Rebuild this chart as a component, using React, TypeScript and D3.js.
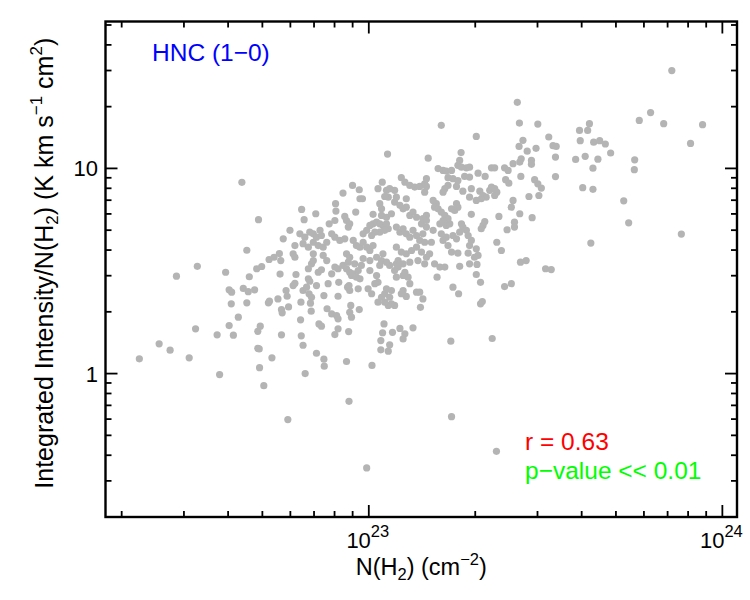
import React from 'react';
import * as d3 from 'd3';

// log10 N(H2) [cm^-2]
const logN = [
  22.641, 22.688, 22.655, 22.515, 22.456, 22.595, 22.683, 22.697, 22.718, 22.662,
  22.605, 22.612, 22.645, 22.659, 22.677, 22.611, 22.655, 22.716, 22.719, 22.631,
  22.605, 22.510, 22.571, 22.617, 22.686, 22.693, 22.407, 22.438, 22.351, 22.492,
  22.686, 22.690, 22.691, 22.578, 22.703, 22.726, 22.732, 22.747, 22.758, 22.777,
  22.749, 22.751, 22.743, 22.753, 22.755, 22.753, 22.771, 22.773, 22.766, 22.769,
  22.786, 22.791, 22.794, 22.786, 22.791, 22.791, 22.810, 22.850, 22.817, 22.805,
  22.819, 22.833, 22.843, 22.852, 22.862, 22.866, 22.814, 22.829, 22.843, 22.857,
  22.871, 22.881, 22.888, 22.904, 22.907, 22.906, 22.895, 22.904, 22.918, 22.932,
  22.808, 22.807, 22.809, 22.814, 22.820, 22.814, 22.824, 22.829, 22.833, 22.831,
  22.838, 22.835, 22.838, 22.843, 22.829, 22.852, 22.837, 22.857, 22.866, 22.852,
  22.859, 22.866, 22.873, 22.874, 22.873, 22.885, 22.881, 22.895, 22.904, 22.913,
  22.915, 22.913, 22.882, 22.895, 22.909, 22.913, 22.904, 22.913, 22.843, 22.871,
  22.937, 22.944, 22.943, 22.949, 22.946, 22.951, 22.973, 22.940, 22.946, 22.944,
  22.970, 22.994, 23.009, 23.003, 22.998, 23.008, 23.003, 22.927, 22.937, 22.946,
  22.951, 22.956, 22.965, 22.975, 22.970, 22.942, 22.960, 22.979, 22.937, 22.946,
  22.984, 23.022, 23.036, 23.040, 22.956, 22.965, 22.975, 22.984, 22.994, 23.003,
  23.012, 22.984, 22.994, 23.003, 23.012, 23.022, 23.031, 23.040, 23.050, 23.055,
  23.045, 23.031, 23.017, 23.008, 23.078, 23.088, 23.097, 23.106, 23.116, 23.125,
  23.135, 23.144, 23.153, 23.163, 23.078, 23.092, 23.106, 23.121, 23.135, 23.149,
  23.163, 23.083, 23.097, 23.116, 23.139, 23.158, 23.053, 23.168, 23.092, 23.102,
  23.116, 23.130, 23.144, 23.158, 23.163, 23.038, 23.026, 23.050, 23.059, 23.073,
  22.954, 22.973, 22.927, 22.975, 22.982, 23.055, 23.045, 23.078, 23.106, 23.031,
  23.036, 23.073, 23.088, 23.097, 23.106, 22.963, 22.932, 22.937, 22.946, 22.942,
  23.012, 23.036, 23.050, 23.064, 23.116, 23.125, 23.135, 23.163, 23.022, 23.026,
  23.031, 23.017, 23.026, 23.036, 23.045, 23.050, 23.059, 23.064, 23.073, 23.064,
  23.055, 23.045, 23.043, 23.039, 23.034, 23.034, 23.055, 23.059, 23.067, 23.088,
  23.102, 23.097, 23.125, 23.078, 23.083, 23.073, 23.059, 23.050, 23.102, 23.097,
  23.111, 23.078, 23.116, 23.097, 23.106, 23.092, 23.135, 23.153, 23.146, 23.186,
  23.201, 23.215, 23.193, 23.257, 23.285, 23.306, 23.304, 23.316, 23.238, 23.254,
  23.144, 23.316, 23.321, 23.384, 23.403, 23.429, 23.445, 23.500, 23.516, 23.232,
  23.349, 23.234, 23.361, 23.420, 23.205, 23.304, 23.426, 23.478, 23.596, 23.436,
  23.425, 23.448, 23.473, 23.509, 23.521, 23.530, 23.528, 23.585, 23.528, 23.261,
  23.257, 23.252, 23.262, 23.276, 23.285, 23.196, 23.210, 23.219, 23.234, 23.309,
  23.329, 23.347, 23.356, 23.384, 23.394, 23.408, 23.427, 23.431, 23.460, 23.460,
  23.430, 23.387, 23.396, 23.469, 23.478, 23.488, 23.453, 23.481, 23.224, 23.238,
  23.252, 23.271, 23.285, 23.163, 23.158, 23.224, 23.215, 23.210, 23.248, 23.266,
  23.290, 23.314, 23.323, 23.332, 23.342, 23.347, 23.356, 23.362, 23.356, 23.285,
  23.304, 23.318, 23.408, 23.403, 23.427, 23.462, 23.182, 23.191, 23.186, 23.196,
  23.205, 23.248, 23.252, 23.243, 23.234, 23.290, 23.368, 23.215, 23.224, 23.210,
  23.201, 23.219, 23.229, 23.153, 23.149, 23.163, 23.262, 23.266, 23.257, 23.276,
  23.281, 23.323, 23.318, 23.328, 23.412, 23.412, 23.391, 23.182, 23.177, 23.158,
  23.205, 23.219, 23.210, 23.238, 23.248, 23.224, 23.290, 23.285, 23.362, 23.375,
  23.234, 23.252, 23.281, 23.304, 23.309, 23.299, 23.172, 23.857, 23.797, 23.765,
  23.834, 23.944, 23.910, 23.624, 23.619, 23.598, 23.636, 23.653, 23.669, 23.684,
  23.612, 23.648, 23.752, 23.751, 23.634, 23.605, 23.634, 23.721, 23.735, 23.884,
  23.628,
];

// log10 of integrated intensity / N(H2) [K km s^-1 cm^2]
const logR = [
  0.932, 0.750, 0.601, 0.523, 0.475, 0.494, 0.511, 0.522, 0.556, 0.472,
  0.408, 0.397, 0.415, 0.399, 0.408, 0.340, 0.345, 0.345, 0.353, 0.275,
  0.234, 0.218, 0.189, 0.187, 0.206, 0.231, 0.145, 0.114, 0.072, 0.077,
  0.123, 0.120, 0.029, -0.005, -0.059, 0.077, 0.567, 0.585, 0.657, 0.698,
  0.485, 0.551, 0.364, 0.312, 0.296, 0.189, -0.224, 0.325, 0.405, 0.377,
  0.429, 0.440, 0.483, 0.584, 0.624, 0.567, 0.800, 0.779, 0.750, 0.681,
  0.665, 0.689, 0.681, 0.665, 0.698, 0.673, 0.633, 0.616, 0.640, 0.624,
  0.616, 0.640, 0.730, 0.746, 0.792, 0.828, 0.681, 0.665, 0.649, 0.657,
  0.348, 0.262, 0.184, 0.138, 0.000, 0.405, 0.421, 0.462, 0.450, 0.389,
  0.372, 0.343, 0.535, 0.551, 0.511, 0.429, 0.304, 0.494, 0.506, 0.099,
  0.242, 0.231, 0.070, 0.036, 0.380, 0.438, 0.551, 0.486, 0.519, 0.511,
  0.445, 0.377, 0.316, 0.291, 0.283, 0.267, 0.190, 0.218, 0.584, 0.576,
  0.059, -0.135, 0.205, 0.332, 0.299, 0.275, 0.312, 0.421, 0.405, 0.429,
  0.413, -0.460, 0.040, 0.502, 0.413, 0.389, 0.551, 0.527, 0.511, 0.494,
  0.478, 0.486, 0.470, 0.462, 0.502, 0.543, 0.535, 0.527, 0.584, 0.567,
  0.561, 0.567, 0.551, 0.584, 0.649, 0.624, 0.616, 0.640, 0.616, 0.600,
  0.624, 0.681, 0.698, 0.722, 0.730, 0.738, 0.730, 0.722, 0.730, 0.706,
  0.698, 0.689, 0.689, 0.673, 0.714, 0.689, 0.706, 0.681, 0.665, 0.698,
  0.673, 0.649, 0.681, 0.714, 0.616, 0.592, 0.584, 0.600, 0.616, 0.592,
  0.567, 0.551, 0.535, 0.543, 0.551, 0.535, 1.070, 1.050, 0.955, 0.933,
  0.917, 0.909, 0.912, 0.925, 0.950, 0.933, 0.901, 0.893, 0.901, 0.893,
  0.917, 0.896, 0.880, 0.852, 0.852, 0.860, 0.863, 0.860, 0.852, 0.828,
  0.803, 0.836, 0.820, 0.803, 0.811, 0.787, 0.766, 0.746, 0.730, 0.714,
  0.776, 0.771, 0.762, 0.779, 0.771, 0.787, 0.762, 0.771, 0.478, 0.445,
  0.527, 0.438, 0.348, 0.372, 0.389, 0.413, 0.372, 0.405, 0.332, 0.340,
  0.332, 0.348, 0.242, 0.199, 0.161, 0.116, 0.109, 0.140, 0.201, 0.220,
  0.194, 0.169, 0.223, 0.535, 0.519, 0.502, 0.527, 0.543, 0.494, 0.478,
  0.470, 0.470, 0.438, 0.405, 0.376, 0.389, 0.397, 0.364, 0.323, 0.535,
  0.519, 0.519, 0.470, 0.523, 0.535, 0.532, 0.483, 0.445, 0.421, 0.389,
  0.397, 0.340, 0.351, 0.424, 0.438, 0.543, 0.551, 0.511, 0.507, 0.158,
  0.171, -0.210, -0.379, 1.322, 1.210, 1.156, 1.221, 1.216, 1.185, 1.137,
  1.107, 1.084, 1.098, 1.153, 1.111, 1.107, 1.055, 1.044, 0.960, 1.077,
  1.039, 1.015, 1.006, 1.003, 1.006, 0.999, 0.990, 0.987, 0.990, 0.977,
  0.961, 1.003, 1.003, 1.003, 0.990, 1.023, 1.031, 1.047, 1.039, 1.020,
  0.961, 0.945, 0.928, 0.945, 0.925, 0.904, 0.863, 0.868, 0.955, 0.950,
  0.941, 0.961, 0.958, 0.912, 0.884, 0.917, 0.901, 0.884, 0.912, 0.889,
  0.901, 0.889, 0.868, 0.860, 0.893, 0.909, 0.901, 0.884, 0.868, 0.860,
  0.844, 0.852, 0.844, 0.811, 0.779, 0.760, 0.844, 0.828, 0.811, 0.803,
  0.787, 0.828, 0.811, 0.795, 0.803, 0.776, 0.766, 0.771, 0.755, 0.746,
  0.730, 0.722, 0.730, 0.755, 0.730, 0.746, 0.730, 0.714, 0.689, 0.698,
  0.673, 0.722, 0.706, 0.741, 0.738, 0.714, 0.701, 0.698, 0.640, 0.640,
  0.681, 0.665, 0.649, 0.673, 0.657, 0.624, 0.649, 0.624, 0.640, 0.600,
  0.592, 0.587, 0.587, 0.608, 0.576, 0.567, 0.584, 1.477, 1.272, 1.234,
  1.218, 1.213, 1.122, 1.218, 1.185, 1.135, 1.128, 1.135, 1.119, 1.075,
  1.059, 1.045, 1.042, 0.994, 1.001, 0.906, 0.898, 0.842, 0.735, 0.680,
  0.636,
];

const xDomain = [1.8e22, 1.1e24];
const yDomain = [0.2, 52];
const xMajor = [1e23, 1e24];
const xMajorExp = ['23', '24'];
const yMajor = [1, 10];
const yMajorLabels = ['1', '10'];

const FONT = '"Liberation Sans", Arial, Helvetica, sans-serif';

export default function App() {
  const W = 750;
  const H = 600;
  const L = 105.5, R = 737, T = 21.5, B = 517;
  const x = d3.scaleLog().domain(xDomain).range([L, R]);
  const y = d3.scaleLog().domain(yDomain).range([B, T]);

  const pts = logN.map((ln, i) => ({ n: Math.pow(10, ln), r: Math.pow(10, logR[i]) }));

  const xMinor: number[] = [];
  [1e22, 1e23].forEach((d) => {
    for (let k = 2; k <= 9; k++) {
      const v = d * k;
      if (v > xDomain[0] && v < xDomain[1]) xMinor.push(v);
    }
  });
  const yMinor: number[] = [];
  [0.1, 1, 10].forEach((d) => {
    for (let k = 2; k <= 9; k++) {
      const v = d * k;
      if (v > yDomain[0] && v < yDomain[1]) yMinor.push(v);
    }
  });

  const MAJ = 12, MIN = 6;
  const axisStroke = { stroke: '#000', strokeWidth: 1.8 };

  return (
    <svg width={W} height={H} style={{ position: 'absolute', left: 0, top: 0, background: '#fff' }} fontFamily={FONT}>
      <rect x={0} y={0} width={W} height={H} fill="#fff" />
      {/* points */}
      <g fill="#b4b4b4">
        {pts.map((p, i) => (
          <circle key={i} cx={x(p.n)} cy={y(p.r)} r={3.6} />
        ))}
      </g>
      {/* frame */}
      <rect x={L} y={T} width={R - L} height={B - T} fill="none" stroke="#000" strokeWidth={2.4} />
      {/* ticks */}
      <g {...axisStroke}>
        {xMajor.map((v, i) => (
          <g key={'xm' + i}>
            <line x1={x(v)} x2={x(v)} y1={B} y2={B - MAJ} />
            <line x1={x(v)} x2={x(v)} y1={T} y2={T + MAJ} />
          </g>
        ))}
        {xMinor.map((v, i) => (
          <g key={'xn' + i}>
            <line x1={x(v)} x2={x(v)} y1={B} y2={B - MIN} />
            <line x1={x(v)} x2={x(v)} y1={T} y2={T + MIN} />
          </g>
        ))}
        {yMajor.map((v, i) => (
          <g key={'ym' + i}>
            <line x1={L} x2={L + MAJ} y1={y(v)} y2={y(v)} />
            <line x1={R} x2={R - MAJ} y1={y(v)} y2={y(v)} />
          </g>
        ))}
        {yMinor.map((v, i) => (
          <g key={'yn' + i}>
            <line x1={L} x2={L + MIN} y1={y(v)} y2={y(v)} />
            <line x1={R} x2={R - MIN} y1={y(v)} y2={y(v)} />
          </g>
        ))}
      </g>
      {/* tick labels */}
      <g fontSize={22} fill="#000">
        {xMajor.map((v, i) => (
          <text key={'xl' + i} x={x(v) - 1} y={548} textAnchor="middle">
            10<tspan fontSize={16.5} dy={-11}>{xMajorExp[i]}</tspan>
          </text>
        ))}
        {yMajor.map((v, i) => (
          <text key={'yl' + i} x={98} y={y(v) + 8} textAnchor="end">
            {yMajorLabels[i]}
          </text>
        ))}
      </g>
      {/* axis titles */}
      <text x={(L + R) / 2} y={575} textAnchor="middle" fontSize={23.5} fill="#000">
        N(H<tspan fontSize={16.5} dy={5}>2</tspan>
        <tspan dy={-5}>) (cm</tspan>
        <tspan fontSize={16.5} dy={-10}>−2</tspan>
        <tspan dy={10}>)</tspan>
      </text>
      <text transform={`translate(53,${(T + B) / 2 - 6}) rotate(-90)`} textAnchor="middle" fontSize={25} fill="#000">
        Integrated Intensity/N(H<tspan fontSize={17} dy={5}>2</tspan>
        <tspan dy={-5}>) (K km s</tspan>
        <tspan fontSize={17} dy={-11}>−1</tspan>
        <tspan dy={11}> cm</tspan>
        <tspan fontSize={17} dy={-11}>2</tspan>
        <tspan dy={11}>)</tspan>
      </text>
      {/* annotations */}
      <text x={152} y={61} fontSize={24.5} fill="#0000ff">HNC (1−0)</text>
      <text x={525} y={450} fontSize={24.5} fill="#ff0000">r = 0.63</text>
      <text x={525} y={479} fontSize={24.5} fill="#00ff00">p−value &lt;&lt; 0.01</text>
    </svg>
  );
}
